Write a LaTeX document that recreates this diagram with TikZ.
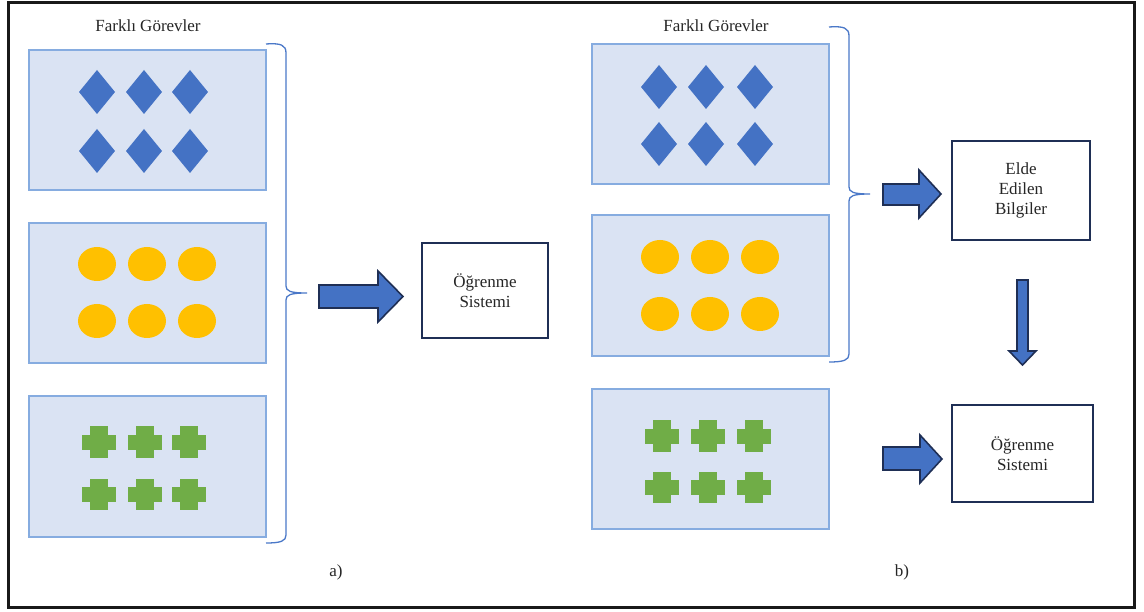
\documentclass[tikz,border=0pt]{standalone}
\usepackage{fontspec}
\setmainfont{Liberation Serif}
\definecolor{panelfill}{HTML}{DAE3F3}
\definecolor{paneledge}{HTML}{86ACE0}
\definecolor{accblue}{HTML}{4472C4}
\definecolor{accgold}{HTML}{FFC000}
\definecolor{accgreen}{HTML}{70AD47}
\definecolor{navy}{HTML}{1F2F55}
\definecolor{bracecol}{HTML}{4A78C8}
\begin{document}
\begin{tikzpicture}[x=1pt,y=-1pt,
  panel/.style={fill=panelfill,draw=paneledge,line width=1.4pt},
  sysbox/.style={draw=navy,line width=2.4pt,fill=white,align=center,
    font=\fontsize{17}{20}\selectfont,text=black!85},
  lbl/.style={font=\fontsize{17}{20}\selectfont,text=black!85},
  bracepath/.style={draw=bracecol,line width=1.3pt},
  barrow/.style={fill=accblue,draw=navy,line width=1.6pt,line join=miter},
  diam/.style={fill=accblue},
  blob/.style={fill=accgold},
  crossfill/.style={fill=accgreen}]
\useasboundingbox (0,0) rectangle (1144,612);
\fill[white] (0,0) rectangle (1144,612);
\draw[black!90,line width=3pt] (8,3) rectangle (1134,607);

% ---------- a) ----------
\node[lbl] (ta) at (148,26) {Farklı Görevler};
\path[panel] (29,50) rectangle (266,190);
\path[panel] (29,223) rectangle (266,363);
\path[panel] (29,396) rectangle (266,537);
\foreach \cx in {97,144,190}{\foreach \cy in {92,151}{
  \fill[diam] (\cx-18,\cy) -- (\cx,\cy-22) -- (\cx+18,\cy) -- (\cx,\cy+22) -- cycle;}}
\foreach \cx in {97,147,197}{\foreach \cy in {264,321}{
  \fill[blob] (\cx,\cy) ellipse [x radius=19, y radius=17];}}
\foreach \cx in {99,145,189}{\foreach \cy in {442,494}{
  \fill[crossfill] (\cx-9,\cy-15.5) rectangle (\cx+9,\cy+15.5);
  \fill[crossfill] (\cx-17,\cy-7.5) rectangle (\cx+17,\cy+7.5);}}
\path[bracepath] (266,44) .. controls (281,43) and (286,45) .. (286,53)
  -- (286,286) .. controls (286,291) and (290,293) .. (307,293)
  .. controls (290,293) and (286,295) .. (286,300)
  -- (286,535) .. controls (286,541) and (281,543) .. (266,543);
\coordinate (bta) at (307,293);
\node[sysbox,minimum width=126pt,minimum height=95pt] (sysa) at (485,290.5) {Öğrenme\\Sistemi};
\path[barrow] (319,285) -- (378,285) -- (378,271) -- (403,296.5) -- (378,322) -- (378,308) -- (319,308) -- cycle;
\node[lbl] (la) at (336,572) {a)};

% ---------- b) ----------
\node[lbl] (tb) at (716,26) {Farklı Görevler};
\path[panel] (592,44) rectangle (829,184);
\path[panel] (592,215) rectangle (829,356);
\path[panel] (592,389) rectangle (829,529);
\foreach \cx in {659,706,755}{\foreach \cy in {87,144}{
  \fill[diam] (\cx-18,\cy) -- (\cx,\cy-22) -- (\cx+18,\cy) -- (\cx,\cy+22) -- cycle;}}
\foreach \cx in {660,710,760}{\foreach \cy in {257,314}{
  \fill[blob] (\cx,\cy) ellipse [x radius=19, y radius=17];}}
\foreach \cx in {662,708,754}{\foreach \cy in {436,487}{
  \fill[crossfill] (\cx-9,\cy-15.5) rectangle (\cx+9,\cy+15.5);
  \fill[crossfill] (\cx-17,\cy-7.5) rectangle (\cx+17,\cy+7.5);}}
\path[bracepath] (829,27) .. controls (844,26) and (849,28) .. (849,36)
  -- (849,187) .. controls (849,192) and (853,194) .. (870,194)
  .. controls (853,194) and (849,196) .. (849,201)
  -- (849,354) .. controls (849,360) and (844,362) .. (829,362);
\node[sysbox,minimum width=138pt,minimum height=99pt] (know) at (1021,190.5) {Elde\\Edilen\\Bilgiler};
\node[sysbox,minimum width=141pt,minimum height=97pt] (sysb) at (1022.5,453.5) {Öğrenme\\Sistemi};
\path[barrow] (883,184) -- (919,184) -- (919,170) -- (941,194) -- (919,218) -- (919,205) -- (883,205) -- cycle;
\path[barrow] (883,447) -- (920,447) -- (920,435) -- (942,459) -- (920,483) -- (920,470) -- (883,470) -- cycle;
\path[barrow] (1017,280) -- (1028,280) -- (1028,351) -- (1036,351) -- (1022.5,365) -- (1009,351) -- (1017,351) -- cycle;
\node[lbl] (lb) at (902,572) {b)};
\end{tikzpicture}
\end{document}
